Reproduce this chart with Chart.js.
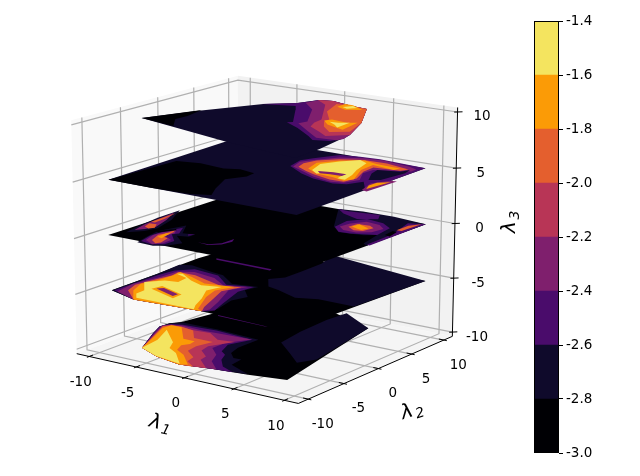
<!DOCTYPE html><html><head><meta charset="utf-8"><script src="https://cdn.jsdelivr.net/npm/chart.js@4"></script>
<style>html,body{margin:0;padding:0;background:#fff}canvas{position:absolute;top:0}</style></head><body>
<canvas id="m" width="640" height="476" style="left:0"></canvas>
<canvas id="c" width="106" height="476" style="left:534px"></canvas>
<script>
const bandColors=['#000004','#0f0a2b','#4a0c6b','#7f1f6d','#b83556','#e45f2e','#fb9b06','#f4e45f'];
const levels=[-3,-2.8,-2.6,-2.4,-2.2,-2,-1.8,-1.6,-1.4];
const ticks=[-10,-5,0,5,10];
const sliceLevels=[-10,-5,0,5,10];
// contour regions per slice: [band index, λ1, λ2, λ1, λ2, ...] in tenths of a unit, in paint order
const sliceM10=[
[0,-72,-78,-91,-39,-99,-20,-98,-7,-92,2,-75,99,1,102,49,81,78,-79,44,-86,9,-91,-18,-97,-47,-90],
[1,13,3,8,38,6,80,8,108,49,81,65,-19,57,-36,37,-18],
[1,-72,-78,-91,-39,-99,-20,-98,-7,-90,1,-53,2,-7,-2,-7,-31,-3,-46,7,-56,15,-56,17,-72,43,-85,9,-91,-18,-97,-47,-90],
[2,-72,-78,-91,-39,-99,-20,-96,-9,-86,-4,-52,-1,-11,-5,-19,-29,-12,-47,-4,-53,2,-66,14,-80,30,-88,9,-91,-18,-97,-47,-90],
[3,-72,-78,-90,-38,-99,-16,-94,-10,-85,-6,-61,-8,-42,-7,-12,-5,-24,-26,-24,-44,-10,-57,-2,-74,15,-90,9,-91,-18,-97,-47,-90],
[4,-72,-78,-88,-40,-97,-18,-94,-10,-67,-12,-52,-10,-35,-22,-19,-19,-30,-42,-27,-55,-14,-66,-12,-76,6,-92,-18,-97,-47,-90],
[5,-72,-78,-87,-42,-97,-18,-93,-11,-84,-9,-68,-13,-54,-30,-34,-30,-38,-48,-36,-62,-21,-74,-18,-86,-5,-95,-18,-97,-47,-90],
[6,-72,-78,-83,-49,-94,-22,-93,-11,-82,-11,-60,-37,-48,-37,-46,-46,-50,-53,-45,-65,-32,-73,-12,-93,-18,-97,-47,-90],
[7,-72,-78,-76,-52,-88,-24,-61,-50,-53,-65,-40,-73,-19,-95,-49,-89]];
const sliceM5=[
[0,-97,-86,-98,-22,-100,10,-101,38,-96,93,99,92,92,-78,72,-97,19,-93,2,-92,-65,-97],
[1,-12,19,-3,31,-3,55,-4,87,-13,115,99,92,94,-8,58,-7,40,-15,15,-4,2,0],
[2,-88,47,-28,46,-27,42,-85,43],
[2,19,-93,71,-96,69,-97,21,-95],
[1,-97,-86,-98,-22,-101,11,-91,16,-64,9,-50,6,-28,-11,-4,-6,-7,-21,7,-36,2,-52,8,-78,7,-91,2,-92,-65,-97],
[2,-95,-85,-95,-27,-93,-6,-81,7,-53,3,-30,-16,-7,-8,-9,-28,2,-64,9,-84,2,-92,-65,-97],
[3,-91,-86,-95,-60,-90,-32,-89,-7,-76,0,-51,-5,-31,-19,-11,-11,-18,-29,-4,-62,4,-84,2,-92,-65,-97],
[5,-86,-78,-92,-61,-88,-35,-85,-20,-87,-8,-69,-8,-45,-17,-31,-22,-15,-15,-21,-35,-11,-62,-4,-81,2,-92,-65,-97],
[6,-65,-97,-82,-76,-90,-56,-85,-39,-84,-19,-86,-7,-68,-14,-47,-24,-20,-18,-27,-36,-21,-56,-5,-88,2,-92],
[7,-66,-92,-74,-82,-75,-70,-91,-50,-80,-36,-68,-33,-70,-19,-85,-13,-81,-10,-62,-23,-46,-30,-29,-24,-33,-40,-21,-62,-13,-81,-7,-91],
[6,-73,-63,-71,-51,-42,-62,-41,-75],
[3,-70,-60,-66,-55,-45,-63,-45,-70]];
const slice0=[
[0,-98,-88,-99,97,95,97,94,-89],
[1,-92,-72,-97,-46,-101,-18,-102,14,-87,-17,-79,-46,-82,-60],
[3,-91,-62,-96,-42,-98,-21,-101,5,-90,-20,-83,-43,-86,-54],
[5,-91,-48,-95,-37,-88,-36,-82,-46,-85,-51],
[5,-97,-32,-98,3,-94,-18,-93,-32],
[1,-64,-92,-69,-73,-73,-53,-65,-25,-52,-47,-41,-44,-41,-53,-51,-56,-32,-73,-38,-87,-47,-93],
[2,-64,-87,-69,-69,-69,-53,-63,-32,-54,-49,-57,-55,-42,-71,-42,-84,-51,-90],
[3,-63,-82,-68,-66,-67,-54,-63,-41,-57,-51,-59,-62,-46,-70,-45,-82,-50,-90],
[5,-59,-79,-65,-63,-63,-55,-63,-43,-60,-49,-58,-65,-52,-67,-48,-81,-50,-86],
[6,-62,-68,-63,-55,-60,-53,-56,-70],
[0,-74,-54,-65,-39,-62,-42,-70,-57],
[2,-46,-47,-41,-44,-43,-51],
[2,-24,-63,-13,-63,-6,-54,-6,-37,-2,-45,-4,-57,-12,-65],
[1,37,45,6,97,28,102,59,103,95,97,94,9,88,14,82,43,73,36,51,32],
[2,6,97,17,96,46,101,53,88,38,78,18,87],
[2,38,45,35,67,45,83,64,79,78,68,80,55,82,43,71,38,61,34,50,33],
[3,41,48,42,62,50,75,65,72,75,63,73,48,63,40,50,40],
[5,47,52,48,64,60,65,67,60,65,47,57,45],
[6,49,54,50,64,64,57,62,49,56,51],
[2,92,13,91,43,90,56,81,91,95,97,96,11],
[5,86,66,86,84,92,95,91,66],
[0,87,47,85,62,90,60,93,45]];
const slice5=[
[1,-95,-90,-104,103,93,98,98,-95],
[0,-95,-90,-92,-3,-70,2,-43,-2,-30,4,-12,-1,-10,-14,-19,-32,-6,-62,5,-82,-11,-89,-50,-91],
[2,-3,38,-9,61,-4,73,7,97,25,101,44,103,93,98,95,5,78,28,72,12,61,8,38,13,20,22],
[3,0,38,-6,56,0,68,12,89,30,98,49,101,79,95,89,90,90,81,61,67,61,52,72,31,67,15,56,12,35,18,18,28],
[3,93,3,86,26,94,43,100,44,99,1],
[5,4,40,0,53,3,68,16,83,34,93,57,94,84,86,81,78,56,75,58,57,67,34,65,18,51,18,30,25,17,32],
[6,14,40,8,61,19,79,36,92,51,87,76,85,75,77,51,82,53,61,67,30,63,21,49,26,30,29],
[7,20,37,13,59,21,76,32,91,43,84,50,59,57,42,62,24,54,25,51,38,37,39,30,29],
[3,26,37,39,41,52,41,52,34,41,33,32,31],
[1,67,56,64,69,83,75,86,85,89,73,86,41,78,35],
[6,89,19,89,31,97,39,95,22,94,8]];
const slice10=[
[1,-84,-59,-64,-11,-36,45,-15,65,-7,86,5,89,29,82,46,79,73,31,91,-12,93,-24,100,-67,103,-104,27,-90],
[0,-84,-59,-63,-5,-58,-31,-59,-46,-44,-68],
[2,-37,44,-15,65,-7,86,5,89,29,82,46,79,73,31,91,-12,95,-27,90,-39,77,-44,66,-34,42,-15,22,-2,26,1,0,41,-9,54],
[3,-10,70,-7,86,5,89,29,82,46,79,73,31,91,-12,95,-27,93,-34,75,-36,57,-21,32,0,34,10,10,51],
[4,-8,85,5,89,29,82,46,79,73,31,91,-12,77,-26,64,-16,47,-4,41,10,39,23,8,73],
[5,14,81,25,51,44,27,45,18,56,2,71,-12,84,-2,73,31,46,79,29,82],
[6,21,72,20,85,28,85,45,74,33,66],
[6,43,21,46,28,63,25,70,30,75,1,67,4,54,10],
[7,25,74,30,82,37,78,32,70],
[7,49,20,57,21,65,26,67,5,59,13]];
const slices=[sliceM10,sliceM5,slice0,slice5,slice10];
const lim={x:[-11.35,11.35],y:[-11.35,11.35],z:[-10.4,10.4]};
const EL=16.5*Math.PI/180,AZ=-54*Math.PI/180,D=10,SX=2727,SY=2410,X0=266.5,Y0=231;
const c=Math.cos(EL),s=Math.sin(EL);
const w=[c*Math.cos(AZ),c*Math.sin(AZ),s],u=[-Math.sin(AZ),Math.cos(AZ),0];
const v=[w[1]*u[2]-w[2]*u[1],w[2]*u[0]-w[0]*u[2],w[0]*u[1]-w[1]*u[0]];
const dot=(a,b)=>a[0]*b[0]+a[1]*b[1]+a[2]*b[2];
function P(x,y,z){const o=[(x-lim.x[0])/(lim.x[1]-lim.x[0])-.5,(y-lim.y[0])/(lim.y[1]-lim.y[0])-.5,(z-lim.z[0])/(lim.z[1]-lim.z[0])-.5];
 const d=D-dot(w,o);return {x:X0+SX*dot(u,o)/d,y:Y0-SY*dot(v,o)/d};}
const ds=[];
const line=(pts,col,w_)=>ds.push({data:pts,showLine:true,pointRadius:0,borderColor:col,borderWidth:w_,fill:false,tension:0});
const poly=(pts,col)=>ds.push({data:pts,showLine:true,pointRadius:0,borderWidth:0,borderColor:col,backgroundColor:col,fill:'shape',tension:0});
const [a0,a1]=lim.x,[b0,b1]=lim.y,[c0,c1]=lim.z;
poly([P(a0,b0,c0),P(a0,b1,c0),P(a0,b1,c1),P(a0,b0,c1)],'rgb(249,249,249)');
poly([P(a0,b1,c0),P(a1,b1,c0),P(a1,b1,c1),P(a0,b1,c1)],'rgb(242,242,242)');
poly([P(a0,b0,c0),P(a1,b0,c0),P(a1,b1,c0),P(a0,b1,c0)],'rgb(245,245,245)');
for(const t of ticks){line([P(t,b0,c0),P(t,b1,c0),P(t,b1,c1)],'#b0b0b0',1.2);
 line([P(a1,t,c0),P(a0,t,c0),P(a0,t,c1)],'#b0b0b0',1.2);
 line([P(a0,b0,t),P(a0,b1,t),P(a1,b1,t)],'#b0b0b0',1.2);
 line([P(t,b0-.3,c0),P(t,b0+.5,c0)],'#000',1);
 line([P(a1+.3,t,c0),P(a1-.5,t,c0)],'#000',1);
 line([P(a1+.3,b1+.3,t),P(a1-.2,b1-.2,t)],'#000',1);}
line([P(a0,b0,c0),P(a1,b0,c0),P(a1,b1,c0),P(a1,b1,c1)],'#000',1);
slices.forEach((sl,k)=>{for(const e of sl){const pts=[];for(let i=1;i<e.length;i+=2)pts.push(P(e[i]/10,e[i+1]/10,sliceLevels[k]));poly(pts,bandColors[e[0]]);}});
ds.reverse();
const labelPlugin={id:'lab',afterDraw(ch){const g=ch.ctx,X=ch.scales.x,Y=ch.scales.y;const px=p=>[X.getPixelForValue(p.x),Y.getPixelForValue(p.y)];
 g.save();g.fillStyle='#000';g.textAlign='center';g.textBaseline='middle';g.font='13.5px "DejaVu Sans"';
 for(const t of ticks){let a=px(P(t,b0,c0));g.fillText(String(t),a[0]-8.5,a[1]+26);
  a=px(P(a1,t,c0));g.fillText(String(t),a[0]+14.5,a[1]+25);
  a=px(P(a1,b1,t));g.fillText(String(t),a[0]+24.5,a[1]+5);}
 const lab=(x,y,r,sub)=>{g.save();g.translate(x,y);g.rotate(r);g.font='italic 20px "DejaVu Sans"';g.fillText('λ',-5,0);g.font='italic 14px "DejaVu Sans"';g.fillText(sub,7,5);g.restore();};
 lab(160,424,.25,'1');lab(412,411,-.3,'2');lab(510,222,-Math.PI/2,'3');
 g.restore();}};
new Chart(document.getElementById('m'),{type:'scatter',data:{datasets:ds},plugins:[labelPlugin],options:{responsive:false,animation:false,layout:{padding:0},
 scales:{x:{type:'linear',min:0,max:640,display:false},y:{type:'linear',min:0,max:476,reverse:true,display:false}},
 plugins:{legend:{display:false},tooltip:{enabled:false},filler:{drawTime:'beforeDatasetDraw'}},datasets:{scatter:{clip:false}}}});
const bars=levels.slice(0,-1).map((l,i)=>[l,levels[i+1]]);
const boxPlugin={id:'box',afterDraw(ch){const g=ch.ctx,a=ch.chartArea;g.save();g.strokeStyle='#000';g.lineWidth=1;g.strokeRect(Math.round(a.left)+.5,Math.round(a.top)+.5,Math.round(a.width)-1,Math.round(a.height)-1);g.restore();}};
new Chart(document.getElementById('c'),{type:'bar',plugins:[boxPlugin],data:{labels:['c'],datasets:bars.map((b,i)=>({data:[b],backgroundColor:bandColors[i],barPercentage:1,categoryPercentage:1,grouped:false}))},
 options:{responsive:false,animation:false,layout:{padding:{top:21,bottom:23,left:0,right:0}},
 scales:{x:{display:false},y:{position:'right',min:-3,max:-1.4,afterFit(s){s.width=81},border:{display:false},grid:{drawOnChartArea:false,tickLength:4,tickColor:'#000',tickWidth:1},
  afterBuildTicks(s){s.ticks=levels.map(v=>({value:v}))},
  ticks:{color:'#000',font:{family:'DejaVu Sans',size:13.5},padding:3,callback:v=>v.toFixed(1)}}},
 plugins:{legend:{display:false},tooltip:{enabled:false}}}});
</script></body></html>
